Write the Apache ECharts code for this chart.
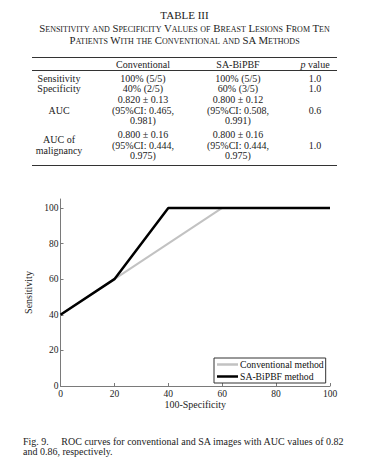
<!DOCTYPE html>
<html>
<head>
<meta charset="utf-8">
<script src="https://cdn.jsdelivr.net/npm/echarts@6/dist/echarts.min.js"></script>
<style>
  html, body { margin:0; padding:0; background:#fff; }
  body { width:365px; height:458px; position:relative; overflow:hidden; font-family:"Liberation Serif","DejaVu Serif",serif; color:#222; }
  #chart { position:absolute; left:0; top:0; width:365px; height:458px; }
  .t { position:absolute; white-space:nowrap; transform:translate(-50%,-50%); line-height:1; }
  .l { position:absolute; white-space:nowrap; line-height:1; }
  .rule { position:absolute; left:32px; width:305px; background:#333; }
  .sc { font-variant:small-caps; }
</style>
</head>
<body>
<div id="chart"></div>
<div id="overlay"></div>
<script>
// ---- table text ----
const tableTitle = "TABLE III";
const tableSubtitle = ["Sensitivity and Specificity Values of Breast Lesions From Ten",
                       "Patients With the Conventional and SA Methods"];
const tableHeader = ["", "Conventional", "SA-BiPBF", "p value"];
const rowLabels = [["Sensitivity"], ["Specificity"], ["AUC"], ["AUC of", "malignancy"]];
const convCells = [["100% (5/5)"], ["40% (2/5)"], ["0.820 ± 0.13", "(95%CI: 0.465,", "0.981)"], ["0.800 ± 0.16", "(95%CI: 0.444,", "0.975)"]];
const saCells = [["100% (5/5)"], ["60% (3/5)"], ["0.800 ± 0.12", "(95%CI: 0.508,", "0.991)"], ["0.800 ± 0.16", "(95%CI: 0.444,", "0.975)"]];
const pValues = ["1.0", "1.0", "0.6", "1.0"];
const caption = ["Fig. 9.\u00a0\u00a0\u00a0\u00a0 ROC curves for conventional and SA images with AUC values of 0.82",
                 "and 0.86, respectively."];

// ---- chart data ----
const convX = [0, 20, 60, 100];
const convY = [40, 60, 100, 100];
const saX = [0, 20, 40, 100];
const saY = [40, 60, 100, 100];
const xTicks = [0, 20, 40, 60, 80, 100];
const yTicks = [0, 20, 40, 60, 80, 100];
const seriesNames = ["Conventional method", "SA-BiPBF method"];
const xName = "100-Specificity";
const yName = "Sensitivity";

// ---- layout of table text ----
const ov = document.getElementById('overlay');
function txt(s, cx, cy, size, cls) {
  const d = document.createElement('div');
  d.className = 't' + (cls ? ' ' + cls : '');
  d.style.left = cx + 'px'; d.style.top = cy + 'px'; d.style.fontSize = size + 'px';
  d.textContent = s; ov.appendChild(d); return d;
}
function rule(y, h) {
  const d = document.createElement('div');
  d.className = 'rule'; d.style.top = y + 'px'; d.style.height = h + 'px'; ov.appendChild(d);
}
txt(tableTitle, 184.5, 14.5, 11);
txt(tableSubtitle[0], 184.5, 28, 10.8, 'sc');
txt(tableSubtitle[1], 184.5, 40, 10.8, 'sc');
rule(56.5, 1.5);
const colX = [59, 143, 238, 315];
const hdrY = 65;
txt(tableHeader[1], colX[1], hdrY, 10);
txt(tableHeader[2], colX[2], hdrY, 10);
const pv = txt("", colX[3], hdrY, 10);
pv.innerHTML = "<i>p</i> value";
rule(70.3, 0.7);
const lh = 10.6;
const rowCenters = [78.5, 89, 110.5, 145.5];
rowLabels.forEach((lines, i) => {
  const cy = rowCenters[i];
  const n = lines.length;
  lines.forEach((s, j) => txt(s, colX[0], cy + (j - (n - 1) / 2) * lh, 10));
  [convCells[i], saCells[i]].forEach((cell, c) => {
    const m = cell.length;
    cell.forEach((s, j) => txt(s, colX[c + 1], cy + (j - (m - 1) / 2) * lh, 10));
  });
  txt(pValues[i], colX[3], cy, 10);
});
rule(165, 1.3);

// caption
caption.forEach((s, i) => {
  const d = document.createElement('div');
  d.className = 'l'; d.style.left = '23px'; d.style.top = (437 + i * 9.8) + 'px';
  d.style.fontSize = '10px'; d.textContent = s; ov.appendChild(d);
});

// ---- chart ----
const chart = echarts.init(document.getElementById('chart'), null, { renderer: 'svg' });
const font = '"Liberation Serif", "DejaVu Serif", serif';
const axisCol = '#7a7a7a';
chart.setOption({
  animation: false,
  grid: { left: 60.5, right: 35, top: 199, bottom: 72, containLabel: false },
  xAxis: {
    type: 'value', min: 0, max: 100, interval: 20,
    name: xName, nameLocation: 'middle', nameGap: 13,
    nameTextStyle: { fontFamily: font, fontSize: 10, color: '#222' },
    axisLine: { show: true, lineStyle: { color: axisCol, width: 1 } },
    axisTick: { show: true, inside: true, length: 3, lineStyle: { color: axisCol } },
    axisLabel: { fontFamily: font, fontSize: 9.5, color: '#222', margin: 3, customValues: xTicks },
    splitLine: { show: false }
  },
  yAxis: {
    type: 'value', min: 0, max: 105,
    name: yName, nameLocation: 'middle', nameGap: 21, nameRotate: 90,
    nameTextStyle: { fontFamily: font, fontSize: 10, color: '#222' },
    axisLine: { show: true, lineStyle: { color: axisCol, width: 1 } },
    axisTick: { show: true, inside: true, length: 3, lineStyle: { color: axisCol }, customValues: yTicks },
    axisLabel: { fontFamily: font, fontSize: 9.5, color: '#222', margin: 2, customValues: yTicks },
    splitLine: { show: false }
  },
  legend: {
    orient: 'vertical', left: 214, top: 358,
    itemWidth: 21, itemHeight: 2.5, itemGap: 1,
    padding: [1, 2, 1, 3],
    borderColor: '#333', borderWidth: 1, backgroundColor: '#fff',
    textStyle: { fontFamily: font, fontSize: 9.7, color: '#111', padding: [0, 0, 0, -3], lineHeight: 11 },
    data: [{ name: seriesNames[0], icon: 'rect' }, { name: seriesNames[1], icon: 'rect' }]
  },
  series: [
    {
      name: seriesNames[0], type: 'line', showSymbol: false, symbol: 'none',
      data: convX.map((x, i) => [x, convY[i]]),
      lineStyle: { color: '#c2c2c2', width: 2 }, itemStyle: { color: '#c2c2c2' }, z: 2
    },
    {
      name: seriesNames[1], type: 'line', showSymbol: false, symbol: 'none',
      data: saX.map((x, i) => [x, saY[i]]),
      lineStyle: { color: '#000', width: 2.5 }, itemStyle: { color: '#000' }, z: 3
    }
  ]
});
</script>
</body>
</html>
